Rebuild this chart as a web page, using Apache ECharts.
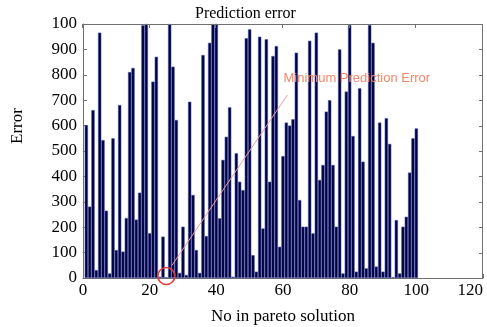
<!doctype html>
<html>
    <head>
        <meta charset="utf-8">
        <title>Prediction error</title>
        <style>
            html, body { margin: 0; padding: 0; background: #fff; }
            #main { width: 487px; height: 327px; }
        </style>
    </head>
    <body>
        <div id="main"></div>
        <script src="https://cdn.jsdelivr.net/npm/echarts@6/dist/echarts.min.js"></script>
        <script>
            // error of each pareto solution (1..100)
            var errors = [
                602, 281, 661, 31, 966, 543, 265, 18, 550, 110,
                681, 104, 236, 811, 827, 230, 336, 995, 1000, 176,
                773, 871, 5, 163, 3, 1000, 832, 622, 20, 202,
                12, 694, 327, 110, 20, 878, 165, 926, 1000, 1000,
                235, 465, 556, 672, 5, 491, 379, 346, 944, 979,
                90, 25, 950, 195, 940, 379, 874, 913, 123, 480,
                612, 600, 625, 887, 307, 202, 202, 934, 176, 966,
                386, 445, 655, 700, 445, 202, 900, 18, 734, 996,
                559, 25, 747, 458, 38, 996, 926, 45, 612, 25,
                629, 528, 3, 228, 18, 202, 241, 415, 550, 589
            ];
            var xTicks = [0, 20, 40, 60, 80, 100, 120];
            var yTicks = [0, 100, 200, 300, 400, 500, 600, 700, 800, 900, 1000];
            var noteText = 'Minimum Prediction Error';
            // where the arrow line and the note sit, in data units
            var noteFrom = [26.7, 50];
            var noteTo = [61.3, 720];
            var noteAt = [60, 787];

            var solutions = errors.map(function (v, i) { return i + 1; });
            var barData = errors.map(function (v, i) { return [solutions[i], v]; });
            var minIdx = errors.indexOf(Math.min.apply(null, errors));

            var serif = '"Liberation Serif", "DejaVu Serif", serif';
            var frame = '#707070';
            var xMin = xTicks[0], xMax = xTicks[xTicks.length - 1];
            var yMin = yTicks[0], yMax = yTicks[yTicks.length - 1];

            // plot box layout
            var W = 487, H = 327;
            var box = { left: 83, top: 24, right: 4, bottom: 49 };
            var boxR = W - box.right, boxB = H - box.bottom;

            var chart = echarts.init(document.getElementById('main'), null, {
                devicePixelRatio: 1
            });

            // frame on top and right, with inward ticks (matlab style box)
            var frameParts = [{
                type: 'polyline',
                silent: true,
                z: 100,
                shape: { points: [[box.left, box.top + 0.5], [boxR - 0.5, box.top + 0.5], [boxR - 0.5, boxB]] },
                style: { stroke: frame, lineWidth: 1, fill: 'none' }
            }];
            xTicks.forEach(function (t) {
                var x = Math.round(box.left + (t - xMin) / (xMax - xMin) * (boxR - box.left)) - 0.5;
                frameParts.push({
                    type: 'line', silent: true, z: 100,
                    shape: { x1: x, y1: box.top, x2: x, y2: box.top + 4 },
                    style: { stroke: frame, lineWidth: 1 }
                });
            });
            yTicks.forEach(function (t) {
                var y = Math.round(boxB - (t - yMin) / (yMax - yMin) * (boxB - box.top)) + 0.5;
                frameParts.push({
                    type: 'line', silent: true, z: 100,
                    shape: { x1: boxR, y1: y, x2: boxR - 4, y2: y },
                    style: { stroke: frame, lineWidth: 1 }
                });
            });
            frameParts.push({
                type: 'text',
                x: 18,
                y: 126,
                rotation: Math.PI / 2,
                style: {
                    text: 'Error',
                    font: '17px ' + serif,
                    fill: '#000',
                    align: 'center',
                    verticalAlign: 'middle'
                }
            });

            chart.setOption({
                animation: false,
                title: {
                    text: 'Prediction error',
                    left: 190,
                    top: 1,
                    textStyle: { fontFamily: serif, fontSize: 16, fontWeight: 'normal', color: '#000' }
                },
                grid: {
                    left: box.left, right: box.right, top: box.top, bottom: box.bottom,
                    outerBoundsMode: 'none',
                    containLabel: false
                },
                graphic: frameParts,
                xAxis: {
                    type: 'value',
                    min: xMin,
                    max: xMax,
                    interval: 20,
                    name: 'No in pareto solution',
                    nameLocation: 'middle',
                    nameGap: 30,
                    nameTextStyle: { fontFamily: serif, fontSize: 17, color: '#000' },
                    axisLine: { show: true, onZero: false, lineStyle: { color: frame, width: 1 } },
                    axisTick: { show: true, inside: true, length: 4, lineStyle: { color: frame, width: 1 } },
                    axisLabel: {
                        fontFamily: serif, fontSize: 17, color: '#000', margin: 4,
                        alignMaxLabel: 'right'
                    },
                    splitLine: { show: false }
                },
                yAxis: {
                    type: 'value',
                    min: yMin,
                    max: yMax,
                    interval: 100,
                    axisLine: { show: true, onZero: false, lineStyle: { color: frame, width: 1 } },
                    axisTick: { show: true, inside: true, length: 4, lineStyle: { color: frame, width: 1 } },
                    axisLabel: {
                        fontFamily: serif,
                        fontSize: 17,
                        color: '#000',
                        margin: 6,
                        // the figure prints the top tick clipped to "100"
                        formatter: function (v) { return v === 1000 ? '100' : String(v); }
                    },
                    splitLine: { show: false }
                },
                series: [{
                    type: 'bar',
                    data: barData,
                    barWidth: 3.3,
                    itemStyle: {
                        color: '#00003c',
                        borderColor: '#4452ac',
                        borderWidth: 0.6
                    },
                    markPoint: {
                        silent: true,
                        data: [{
                            coord: [solutions[minIdx], 8],
                            symbol: 'circle',
                            symbolSize: 17,
                            itemStyle: { color: 'rgba(0,0,0,0)', borderColor: '#e83a3a', borderWidth: 1.6 },
                            label: { show: false }
                        }, {
                            coord: noteAt,
                            symbol: 'circle',
                            symbolSize: 1,
                            itemStyle: { color: 'rgba(0,0,0,0)' },
                            label: {
                                show: true,
                                position: 'right',
                                distance: 0,
                                formatter: noteText,
                                fontFamily: '"Liberation Sans", Arial, sans-serif',
                                fontSize: 13,
                                color: '#f3886a'
                            }
                        }]
                    },
                    markLine: {
                        silent: true,
                        symbol: 'none',
                        label: { show: false },
                        lineStyle: { color: '#f39a9a', width: 1, type: 'solid' },
                        data: [[{ coord: noteFrom }, { coord: noteTo }]]
                    }
                }]
            });

            window.onresize = chart.resize;
        </script>
    </body>
</html>
